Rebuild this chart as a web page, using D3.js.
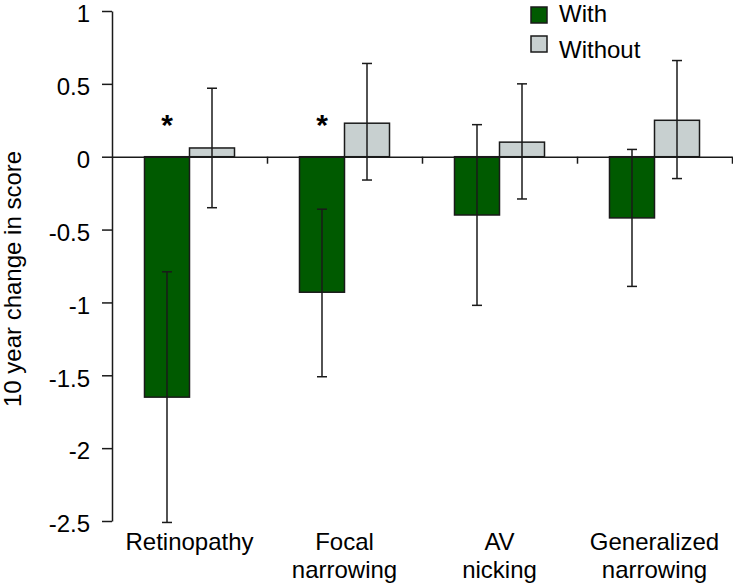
<!DOCTYPE html>
<html>
<head>
<meta charset="utf-8">
<script src="https://cdn.jsdelivr.net/npm/d3@7"></script>
<style>
  html, body { margin: 0; padding: 0; background: #ffffff; }
  svg { display: block; font-family: "Liberation Sans", Arial, sans-serif; }
</style>
</head>
<body>
<svg id="chart" width="733" height="586"></svg>
<script>
// ---- data ----
const categories = ["Retinopathy", "Focal narrowing", "AV nicking", "Generalized narrowing"];
const categoryLines = [["Retinopathy"], ["Focal", "narrowing"], ["AV", "nicking"], ["Generalized", "narrowing"]];
const seriesNames = ["With", "Without"];
const withValues = [-1.65, -0.93, -0.40, -0.42];
const withLow = [-2.51, -1.51, -1.02, -0.89];
const withHigh = [-0.79, -0.36, 0.22, 0.05];
const withoutValues = [0.06, 0.23, 0.10, 0.25];
const withoutLow = [-0.35, -0.16, -0.29, -0.15];
const withoutHigh = [0.47, 0.64, 0.50, 0.66];
const significant = [true, true, false, false];
const yTicks = [1, 0.5, 0, -0.5, -1, -1.5, -2, -2.5];
const yTitle = "10 year change in score";

// ---- layout ----
const svg = d3.select("#chart");
const plotLeft = 112, plotRight = 732, plotTop = 11, plotBottom = 521;
const colors = { With: "#005a00", Without: "#c8d0d0" };
const stroke = "#1a1a1a";

const y = d3.scaleLinear().domain([-2.5, 1]).range([plotBottom, plotTop]);
const x0 = d3.scaleBand().domain(categories).range([plotLeft, plotRight]).padding(0);
const x1 = d3.scaleBand().domain(seriesNames).range([0, x0.bandwidth()])
  .paddingInner(0).paddingOuter(0.722);

const rows = categories.map((c, i) => ({
  cat: c, i,
  bars: [
    { s: "With", v: withValues[i], lo: withLow[i], hi: withHigh[i] },
    { s: "Without", v: withoutValues[i], lo: withoutLow[i], hi: withoutHigh[i] }
  ]
}));

// bars
const g = svg.append("g");
const groups = g.selectAll("g.cat").data(rows).join("g")
  .attr("class", "cat")
  .attr("transform", d => `translate(${x0(d.cat)},0)`);

groups.selectAll("rect").data(d => d.bars).join("rect")
  .attr("x", d => x1(d.s))
  .attr("width", x1.bandwidth())
  .attr("y", d => y(Math.max(0, d.v)))
  .attr("height", d => Math.abs(y(d.v) - y(0)))
  .attr("fill", d => colors[d.s])
  .attr("stroke", stroke)
  .attr("stroke-width", 1.5);

// x axis line at zero
const xl = d3.scaleLinear().domain([0, 4]).range([plotLeft, plotRight]);
svg.append("g")
  .attr("transform", `translate(0,${y(0)})`)
  .call(d3.axisBottom(xl).tickValues([1, 2, 3, 4]).tickSize(7).tickSizeOuter(0).tickFormat(""))
  .call(s => s.selectAll("path,line").attr("stroke", stroke).attr("stroke-width", 1.5));

// error bars
const cap = 5;
const eb = groups.selectAll("g.err").data(d => d.bars).join("g")
  .attr("class", "err")
  .attr("stroke", stroke).attr("stroke-width", 1.5);
const cx = d => x1(d.s) + x1.bandwidth() / 2;
eb.append("line")
  .attr("x1", cx).attr("x2", cx)
  .attr("y1", d => y(d.hi)).attr("y2", d => y(d.lo));
eb.append("line")
  .attr("x1", d => cx(d) - cap).attr("x2", d => cx(d) + cap)
  .attr("y1", d => y(d.hi)).attr("y2", d => y(d.hi));
eb.append("line")
  .attr("x1", d => cx(d) - cap).attr("x2", d => cx(d) + cap)
  .attr("y1", d => y(d.lo)).attr("y2", d => y(d.lo));

// significance asterisks
groups.filter(d => significant[d.i]).append("text")
  .attr("x", x1("With") + x1.bandwidth() / 2)
  .attr("y", 135)
  .attr("text-anchor", "middle")
  .attr("font-size", 30)
  .attr("font-weight", "bold")
  .text("*");

// y axis
const yAxis = svg.append("g")
  .attr("transform", `translate(${plotLeft},0)`)
  .call(d3.axisLeft(y).tickValues(yTicks).tickSize(10).tickSizeOuter(0).tickPadding(12)
    .tickFormat(d => String(d)));
yAxis.selectAll("path,line").attr("stroke", stroke).attr("stroke-width", 1.5);
yAxis.selectAll("text").attr("font-size", 24).attr("fill", "#000")
  .attr("dy", "0.45em")
  .attr("font-family", "'Liberation Sans', Arial, sans-serif");

// y title
svg.append("text")
  .attr("transform", `translate(21,279) rotate(-90)`)
  .attr("text-anchor", "middle")
  .attr("font-size", 24)
  .text(yTitle);

// category labels
const lab = svg.append("g").selectAll("text").data(rows).join("text")
  .attr("text-anchor", "middle")
  .attr("font-size", 24)
  .attr("x", d => x0(d.cat) + x0.bandwidth() / 2)
  .attr("y", 550);
lab.selectAll("tspan").data(d => categoryLines[d.i]).join("tspan")
  .attr("x", function() { return d3.select(this.parentNode).attr("x"); })
  .attr("dy", (d, j) => j === 0 ? 0 : 28)
  .text(d => d);

// legend
const legend = [
  { s: "With", sy: 7, ty: 22 },
  { s: "Without", sy: 36, ty: 58 }
];
const lg = svg.append("g").selectAll("g").data(legend).join("g");
lg.append("rect")
  .attr("x", 531).attr("y", d => d.sy).attr("width", 16).attr("height", 16)
  .attr("fill", d => colors[d.s]).attr("stroke", stroke).attr("stroke-width", 1.5);
lg.append("text")
  .attr("x", 559).attr("y", d => d.ty)
  .attr("font-size", 24)
  .text(d => d.s);
</script>
</body>
</html>
